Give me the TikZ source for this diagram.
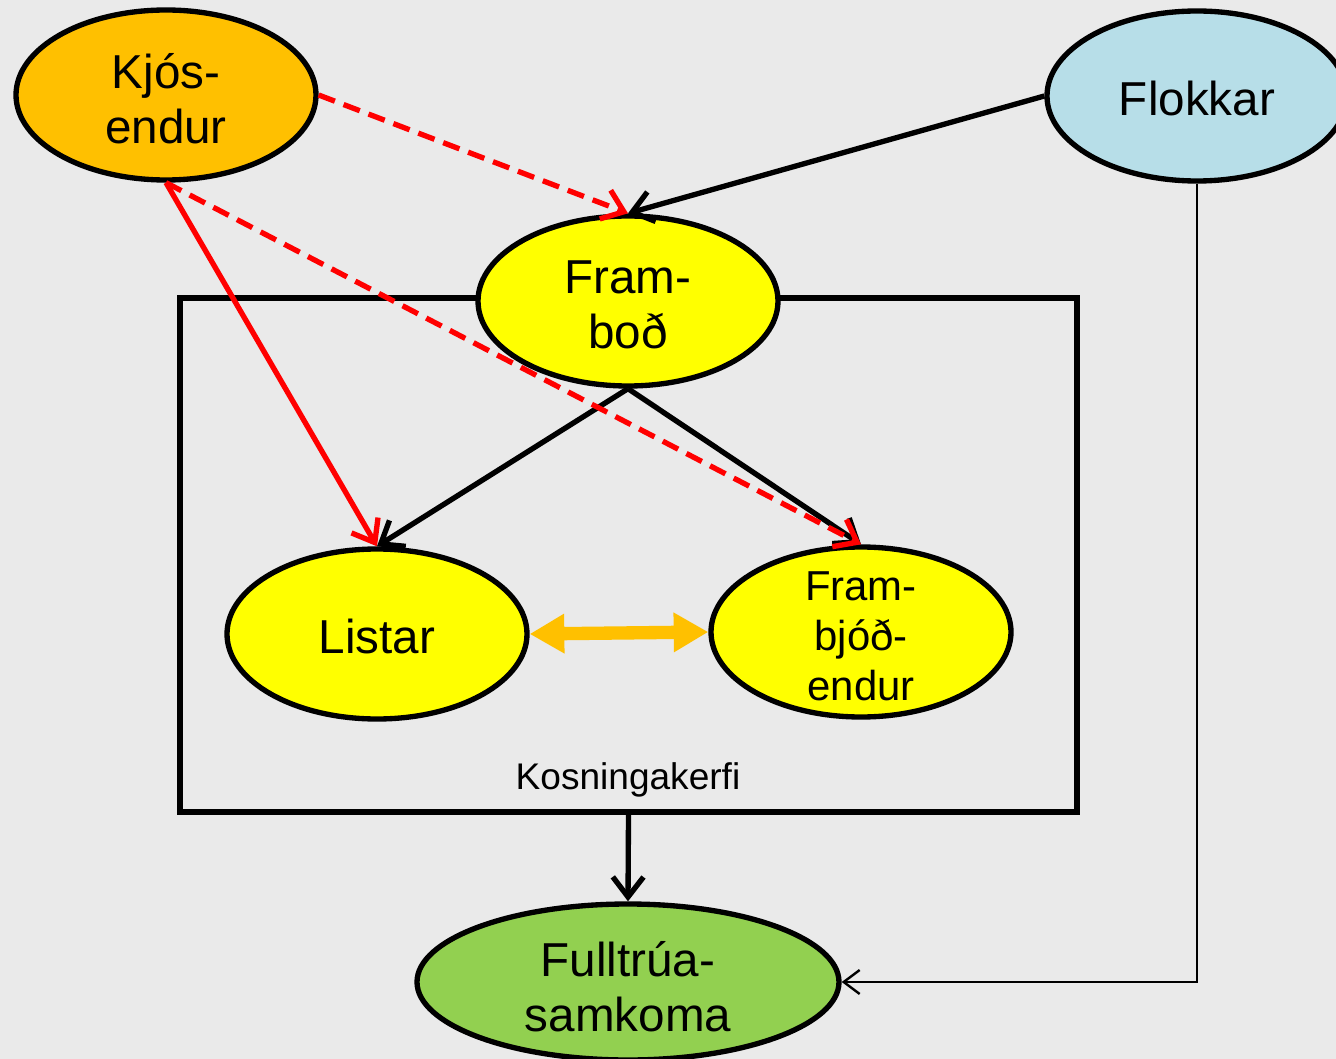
\documentclass[tikz,border=0pt]{standalone}
\usepackage{fontspec}
\setmainfont{Liberation Sans}
\usetikzlibrary{shapes.geometric,arrows.meta}
\definecolor{bg}{HTML}{EAEAEA}
\definecolor{korange}{HTML}{FFC000}
\definecolor{kblue}{HTML}{B7DEE8}
\definecolor{kyellow}{HTML}{FFFF00}
\definecolor{kgreen}{HTML}{92D050}
\definecolor{kred}{HTML}{FF0000}
\tikzset{
  ell/.style={ellipse, draw=black, line width=4pt, minimum width=225pt, minimum height=127.5pt, inner sep=0pt},
  bigtxt/.style={align=center, inner sep=0pt, font=\fontsize{35.7}{41.5}\selectfont},
  midtxt/.style={align=center, inner sep=0pt, font=\fontsize{31.4}{37.5}\selectfont},
  smalltxt/.style={inner sep=0pt, font=\fontsize{27.8}{33}\selectfont},
  blk/.style={draw=black, line width=4pt, -{Straight Barb[length=15pt,width=23pt,line width=4pt]}},
  redsolid/.style={draw=kred, line width=4pt, -{Straight Barb[length=15pt,width=23pt,line width=4pt]}},
  reddash/.style={draw=kred, line width=4pt, dash pattern=on 13pt off 7pt, -{Straight Barb[length=15pt,width=23pt,line width=4pt]}},
  thinarr/.style={draw=black, line width=1.8pt, -{Straight Barb[length=12pt,width=18pt,line width=1.8pt]}},
  dblarr/.style={draw=korange, line width=10pt, {Triangle[length=26pt,width=28pt]}-{Triangle[length=26pt,width=28pt]}},
}
\begin{document}
\begin{tikzpicture}[x=0.75pt,y=-0.75pt]
\useasboundingbox (0,0) rectangle (1336,1059);
\fill[bg] (0,0) rectangle (1336,1059);
\begin{scope}
\clip (0,0) rectangle (1336,1059);
% frame
\node[draw=black, line width=4pt, minimum width=672.75pt, minimum height=385.5pt, inner sep=0pt] (kerfi) at (628.5,555) {};
\node[smalltxt] (kerfilbl) at (628,780) {Kosningakerfi};
% ellipses
\node[ell, fill=korange] (kjos) at (166,95) {};
\node[bigtxt] (kjostxt) at (166,99) {Kjós-\\endur};
\node[ell, fill=kblue] (flok) at (1197,96) {};
\node[bigtxt] (floktxt) at (1197,98) {Flokkar};
\node[ell, fill=kyellow] (frb) at (628,301) {};
\node[bigtxt] (frbtxt) at (628,305) {Fram-\\boð};
\node[ell, fill=kyellow] (list) at (377,634) {};
\node[bigtxt] (listtxt) at (377,636) {Listar};
\node[ell, fill=kyellow] (fbj) at (861,632) {};
\node[midtxt] (fbjtxt) at (861,636) {Fram-\\bjóð-\\endur};
\node[ellipse, draw=black, line width=4pt, minimum width=316.5pt, minimum height=117pt, inner sep=0pt, fill=kgreen] (full) at (628,982) {};
\node[bigtxt] (fulltxt) at (628,987) {Fulltrúa-\\samkoma};
% connectors
\draw[reddash] (kjos.east) -- (frb.north);
\draw[blk] (flok.west) -- (frb.north);
\draw[redsolid] (kjos.south) -- (list.north);
\draw[blk] (frb.south) -- (list.north);
\draw[blk] (frb.south) -- (fbj.north);
\draw[reddash] (kjos.south) -- (fbj.north);
\draw[blk] (kerfi.south) -- (full.north);
\draw[thinarr] (flok.south) |- (full.east);
\draw[dblarr] (list.east) -- (fbj.west);
\end{scope}
\end{tikzpicture}
\end{document}
